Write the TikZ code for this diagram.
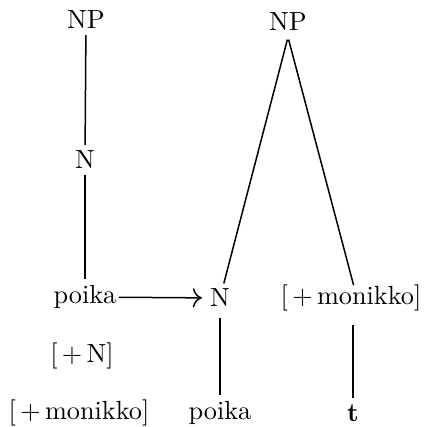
\documentclass[tikz,border=0pt]{standalone}
\usetikzlibrary{arrows.meta,calc}
\begin{document}
\begin{tikzpicture}[x=0.4pt,y=-0.4pt,
  lbl/.style={inner sep=0pt,outer sep=2.5pt,font=\fontsize{10.5}{12}\selectfont},
  branch/.style={line width=0.6pt}]
\useasboundingbox (0,0) rectangle (428,427);
% left tree
\node[lbl] (np1) at (86,20) {NP};
\node[lbl] (n1) at (85,160) {N};
\node[lbl] (p1) at (85,297) {poika};
\node[lbl] (f1) at (82,356) {[\,+\,N]};
\node[lbl] (m1) at (79,413) {[\,+\,monikko]};
\draw[branch] (np1) -- (n1);
\draw[branch] (n1) -- (p1);
% right tree
\node[lbl] (np2) at (288,22) {NP};
\node[lbl] (n2) at (220,298) {N};
\node[lbl] (m2) at (351,298) {[\,+\,monikko]};
\node[lbl] (p2) at (220,413) {poika};
\node[lbl] (t2) at (353,413) {\textbf{t}};
\draw[branch,shorten <=1pt,shorten >=6pt] (np2.south) -- (n2.center);
\draw[branch,shorten <=1pt,shorten >=5.3pt] (np2.south) -- ($(m2.center)+(6,0)$);
\draw[branch,shorten <=2pt] (n2) -- (p2);
\draw[branch,shorten <=3pt] (m2.south -| t2) -- (t2);
% arrow
\draw[branch,-{Computer Modern Rightarrow[scale=1.25]},shorten <=-1.6pt,shorten >=0.8pt] (p1) -- (n2);
\end{tikzpicture}
\end{document}
